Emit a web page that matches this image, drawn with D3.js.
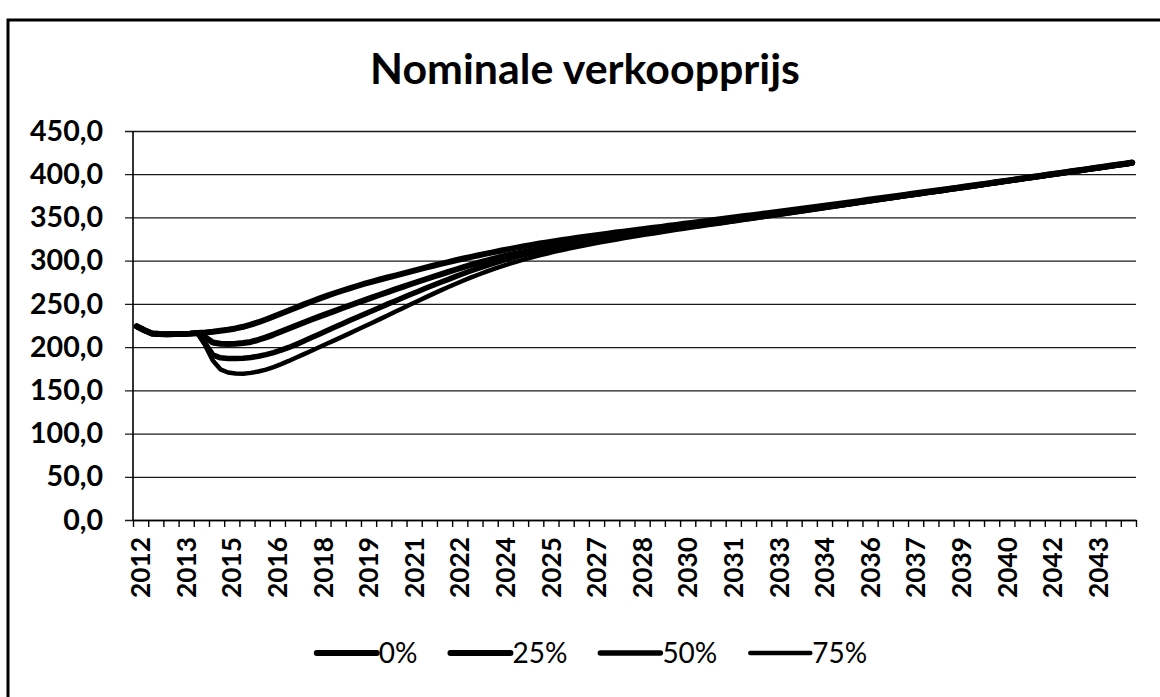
<!DOCTYPE html>
<html>
<head>
<meta charset="utf-8">
<script src="https://cdn.jsdelivr.net/npm/d3@7/dist/d3.min.js"></script>
<style>
  html, body { margin: 0; padding: 0; background: #fff; }
  svg { display: block; }
  text { font-family: Lato, "Open Sans", "DejaVu Sans", sans-serif; fill: #000; }
</style>
</head>
<body>
<svg id="chart" width="1160" height="697"></svg>
<script>
// Quarterly categories 2012 K1 .. 2044 K4
const years = d3.range(2012, 2045);
const quarters = years.flatMap(y => [1, 2, 3, 4].map(q => `${y} K${q}`));

// Axis labels shown every sixth quarter
const xTickLabels = ["2012", "2013", "2015", "2016", "2018", "2019", "2021", "2022", "2024", "2025", "2027",
                     "2028", "2030", "2031", "2033", "2034", "2036", "2037", "2039", "2040", "2042", "2043"];
const yTicks = [0, 50, 100, 150, 200, 250, 300, 350, 400, 450];

const seriesNames = ["0%", "25%", "50%", "75%"];

const price0 = [
  224.0, 219.5, 215.8, 215.2, 215.0, 215.1, 215.3, 215.6, 216.2,
  216.9, 217.8, 218.9, 220.1, 221.6, 223.5, 225.9, 228.8, 232.0, 235.4, 238.9, 242.4,
  245.9, 249.4, 252.8, 256.1, 259.3, 262.3, 265.2, 268.0, 270.7, 273.3, 275.8, 278.2,
  280.5, 282.8, 285.1, 287.4, 289.7, 291.9, 294.1, 296.3, 298.4, 300.5, 302.5, 304.4,
  306.3, 308.1, 309.9, 311.7, 313.4, 315.1, 316.7, 318.3, 319.8, 321.2, 322.6, 323.9,
  325.2, 326.5, 327.7, 328.9, 330.1, 331.3, 332.5, 333.6, 334.7, 335.8, 336.9, 338.0,
  339.1, 340.3, 341.4, 342.6, 343.7, 344.8, 345.9, 347.1, 348.2, 349.3, 350.4, 351.6,
  352.7, 353.8, 354.9, 356.1, 357.2, 358.3, 359.5, 360.6, 361.7, 362.9, 364.1, 365.3,
  366.5, 367.7, 368.9, 370.1, 371.3, 372.5, 373.7, 374.9, 376.1, 377.3, 378.5, 379.7,
  380.9, 382.1, 383.3, 384.5, 385.7, 386.9, 388.2, 389.4, 390.7, 392.0, 393.2, 394.5,
  395.8, 397.0, 398.3, 399.6, 400.8, 402.1, 403.4, 404.6, 405.9, 407.2, 408.4, 409.7,
  411.0, 412.2, 413.5
];
const price25 = [
  224.0, 219.5, 215.8, 215.2, 215.0, 215.1, 215.3, 215.6, 216.2,
  211.5, 205.4, 203.9, 203.6, 203.9, 204.7, 206.0, 208.5, 211.3, 214.5, 218.0, 221.6,
  225.1, 228.5, 231.9, 235.3, 238.5, 241.7, 244.9, 248.1, 251.3, 254.4, 257.5, 260.6,
  263.7, 266.7, 269.7, 272.7, 275.6, 278.5, 281.4, 284.2, 287.0, 289.8, 292.5, 295.2,
  297.7, 300.1, 302.4, 304.6, 306.5, 308.4, 310.2, 311.9, 313.6, 315.2, 316.8, 318.3,
  319.8, 321.2, 322.6, 324.0, 325.4, 326.8, 328.1, 329.4, 330.7, 332.0, 333.3, 334.6,
  335.9, 337.2, 338.4, 339.6, 340.8, 342.0, 343.2, 344.4, 345.6, 346.8, 348.0, 349.4,
  350.6, 351.8, 353.0, 354.2, 355.4, 356.6, 357.8, 359.0, 360.2, 361.5, 362.8, 364.0,
  365.3, 366.5, 367.8, 369.0, 370.3, 371.5, 372.8, 374.0, 375.3, 376.5, 377.8, 379.0,
  380.3, 381.5, 382.8, 384.0, 385.3, 386.5, 387.8, 389.1, 390.4, 391.7, 392.9, 394.2,
  395.5, 396.7, 398.0, 399.3, 400.5, 401.8, 403.1, 404.3, 405.6, 406.9, 408.1, 409.4,
  410.7, 411.9, 413.2
];
const price50 = [
  224.0, 219.5, 215.8, 215.2, 215.0, 215.1, 215.3, 215.6, 216.2,
  204.0, 191.0, 187.6, 186.8, 186.7, 187.1, 188.0, 189.4, 191.3, 193.7, 196.5, 199.6,
  203.2, 207.0, 211.0, 215.0, 219.0, 222.9, 226.8, 230.7, 234.5, 238.3, 242.1, 245.9,
  249.7, 253.4, 257.1, 260.8, 264.4, 268.0, 271.5, 275.0, 278.4, 281.8, 285.1, 288.3,
  291.4, 294.3, 297.1, 299.8, 302.3, 304.7, 307.0, 309.2, 311.3, 313.3, 315.2, 317.0,
  318.7, 320.3, 321.9, 323.4, 324.8, 326.2, 327.5, 328.8, 330.1, 331.3, 332.5, 333.7,
  334.9, 336.1, 337.3, 338.5, 339.7, 340.9, 342.1, 343.3, 344.5, 345.7, 346.9, 348.1,
  349.3, 350.5, 351.8, 353.0, 354.3, 355.5, 356.8, 358.1, 359.4, 360.7, 362.0, 363.3,
  364.6, 365.9, 367.2, 368.5, 369.8, 371.1, 372.4, 373.7, 375.0, 376.2, 377.5, 378.7,
  380.0, 381.2, 382.5, 383.7, 385.0, 386.2, 387.5, 388.8, 390.1, 391.4, 392.7, 394.0,
  395.3, 396.5, 397.8, 399.1, 400.3, 401.6, 402.9, 404.1, 405.4, 406.7, 407.9, 409.2,
  410.5, 411.7, 413.0
];
const price75 = [
  224.0, 219.5, 215.8, 215.2, 215.0, 215.1, 215.3, 215.6, 216.2,
  202.0, 184.5, 174.3, 170.6, 169.4, 169.3, 170.2, 171.8, 174.0, 176.9, 180.3, 184.0,
  188.0, 191.9, 195.8, 199.8, 203.8, 207.8, 211.8, 215.9, 220.0, 224.1, 228.2, 232.4,
  236.6, 240.8, 245.0, 249.2, 253.4, 257.5, 261.6, 265.6, 269.5, 273.3, 277.0, 280.6,
  284.0, 287.3, 290.4, 293.4, 296.2, 298.9, 301.4, 303.8, 306.1, 308.3, 310.4, 312.4,
  314.3, 316.1, 317.9, 319.6, 321.2, 322.8, 324.3, 325.8, 327.3, 328.7, 330.1, 331.5,
  332.9, 334.3, 335.6, 336.9, 338.2, 339.5, 340.8, 342.1, 343.4, 344.7, 346.0, 347.3,
  348.6, 349.9, 351.2, 352.5, 353.8, 355.0, 356.3, 357.6, 358.9, 360.2, 361.5, 362.8,
  364.1, 365.4, 366.7, 368.0, 369.3, 370.6, 371.9, 373.2, 374.5, 375.7, 377.0, 378.2,
  379.5, 380.7, 382.0, 383.2, 384.5, 385.7, 387.0, 388.3, 389.6, 390.9, 392.2, 393.5,
  394.8, 396.0, 397.3, 398.6, 399.8, 401.1, 402.4, 403.6, 404.9, 406.2, 407.4, 408.7,
  410.0, 411.2, 412.5
];

const seriesValues = [price0, price25, price50, price75];
const strokeWidths = [6, 6, 5.5, 4.5];

const svg = d3.select("#chart");

// Outer frame of the chart area
svg.append("rect")
  .attr("x", 8).attr("y", 20)
  .attr("width", 1200).attr("height", 720)
  .attr("fill", "none").attr("stroke", "#000").attr("stroke-width", 3);

const plot = { left: 133, right: 1136, top: 131, bottom: 520 };

// Position along the category axis measured in quarters
const x = d3.scaleLinear().domain([0, quarters.length]).range([plot.left, plot.right]);
const y = d3.scaleLinear().domain([0, 450]).range([plot.bottom, plot.top]);

// Fit a font size so a sample string reaches a given width
function fitSize(sample, weight, targetWidth, base) {
  const t = svg.append("text").attr("font-size", base).attr("font-weight", weight).text(sample);
  const w = t.node().getComputedTextLength();
  t.remove();
  return base * targetWidth / w;
}

// Title
const titleSize = fitSize("Nominale verkoopprijs", 700, 430, 36);
svg.append("text")
  .attr("x", 585).attr("y", 84)
  .attr("text-anchor", "middle")
  .attr("font-size", titleSize).attr("font-weight", 700)
  .text("Nominale verkoopprijs");

// Horizontal gridlines with outward ticks
const fmt = v => d3.format(".1f")(v).replace(".", ",");
const yAxis = d3.axisLeft(y).tickValues(yTicks).tickSize(-(plot.right - plot.left)).tickSizeOuter(0).tickFormat(fmt).tickPadding(30);
const yLabelSize = fitSize("450,0", 700, 73, 26);
const gy = svg.append("g").attr("transform", `translate(${plot.left},0)`).call(yAxis);
gy.select(".domain").remove();
gy.selectAll(".tick line").attr("stroke", "#1a1a1a").attr("stroke-width", 1.3).attr("x1", -8);
gy.selectAll(".tick text").attr("font-size", yLabelSize).attr("font-weight", 700)
  .attr("font-family", "Lato, 'Open Sans', sans-serif").attr("fill", "#000");

// Vertical axis line
svg.append("line")
  .attr("x1", plot.left).attr("x2", plot.left)
  .attr("y1", plot.top).attr("y2", plot.bottom)
  .attr("stroke", "#000").attr("stroke-width", 1.6);

// Category axis: tick marks every two quarters
const xTicksAxis = d3.axisBottom(x).tickValues(d3.range(0, quarters.length + 1, 2)).tickSize(7).tickSizeOuter(0).tickFormat("");
const gx = svg.append("g").attr("transform", `translate(0,${plot.bottom})`).call(xTicksAxis);
gx.select(".domain").attr("stroke", "#000").attr("stroke-width", 1.6);
gx.selectAll(".tick line").attr("stroke", "#000").attr("stroke-width", 1.4);

// Year labels every sixth quarter, rotated
const labelPositions = xTickLabels.map((d, i) => i * 6 + 1);
const xLabelSize = fitSize("2012", 700, 61, 25);
const xLabelAxis = d3.axisBottom(x).tickValues(labelPositions).tickSize(0)
  .tickFormat((d, i) => xTickLabels[i]);
const gl = svg.append("g").attr("transform", `translate(0,${plot.bottom})`).call(xLabelAxis);
gl.select(".domain").remove();
gl.selectAll(".tick text")
  .attr("font-size", xLabelSize).attr("font-weight", 700)
  .attr("font-family", "Lato, 'Open Sans', sans-serif").attr("fill", "#000")
  .attr("text-anchor", "end")
  .attr("dy", "0.35em")
  .attr("transform", "translate(0,17) rotate(-90)")
  .attr("x", 0).attr("y", 0);

// Series lines, lightest scenario drawn first
const line = d3.line()
  .x((d, i) => x(i + 0.5))
  .y(d => y(d));

const order = [3, 2, 1, 0];
svg.append("g").selectAll("path")
  .data(order)
  .join("path")
  .attr("d", k => line(seriesValues[k]))
  .attr("fill", "none")
  .attr("stroke", "#000")
  .attr("stroke-width", k => strokeWidths[k])
  .attr("stroke-linejoin", "round")
  .attr("stroke-linecap", "round");

// Legend
const legendSize = 28;
const lg = svg.append("g");
const sampleLen = 60, gapText = 2, gapItem = 33;
const widths = seriesNames.map(n => {
  const t = svg.append("text").attr("font-size", legendSize).text(n);
  const w = t.node().getComputedTextLength(); t.remove(); return w;
});
const total = d3.sum(widths) + seriesNames.length * (sampleLen + gapText) + (seriesNames.length - 1) * gapItem;
let cx = 592 - total / 2;
seriesNames.forEach((n, k) => {
  lg.append("line")
    .attr("x1", cx).attr("x2", cx + sampleLen)
    .attr("y1", 653).attr("y2", 653)
    .attr("stroke", "#000").attr("stroke-width", strokeWidths[k])
    .attr("stroke-linecap", "round");
  lg.append("text")
    .attr("x", cx + sampleLen + gapText).attr("y", 663)
    .attr("font-size", legendSize)
    .text(n);
  cx += sampleLen + gapText + widths[k] + gapItem;
});
</script>
</body>
</html>
